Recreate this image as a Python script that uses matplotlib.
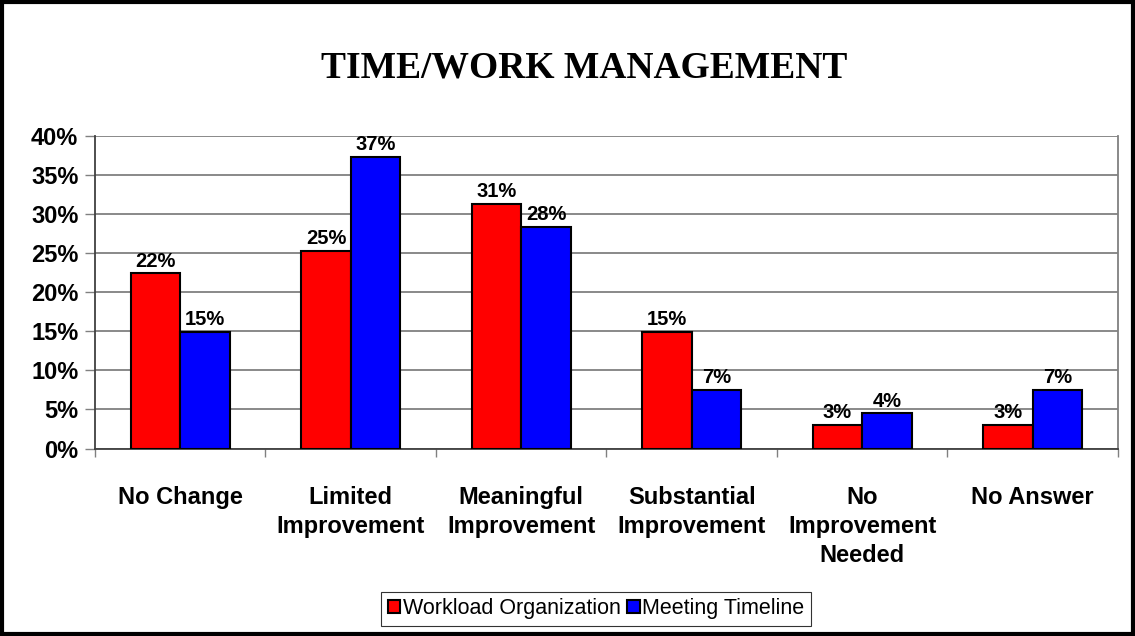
import numpy as np
import matplotlib.pyplot as plt
from matplotlib.patches import Rectangle
from matplotlib.ticker import FixedLocator

categories = ["No Change", "Limited\nImprovement", "Meaningful\nImprovement",
              "Substantial\nImprovement", "No\nImprovement\nNeeded", "No Answer"]
workload = [22.4, 25.3, 31.3, 14.9, 3.0, 3.0]
meeting = [14.9, 37.3, 28.4, 7.5, 4.5, 7.5]
workload_labels = ["22%", "25%", "31%", "15%", "3%", "3%"]
meeting_labels = ["15%", "37%", "28%", "7%", "4%", "7%"]
yticks = [0, 5, 10, 15, 20, 25, 30, 35, 40]

fig = plt.figure(figsize=(11.35, 6.36), dpi=100)
ax = fig.add_axes([0.0837, 0.2948, 0.9013, 0.4914])

x = np.arange(len(categories))
w = 0.29
b1 = ax.bar(x - w / 2, workload, w, color="#ff0000", edgecolor="black", linewidth=1.5,
            label="Workload Organization", zorder=3)
b2 = ax.bar(x + w / 2, meeting, w, color="#0000ff", edgecolor="black", linewidth=1.5,
            label="Meeting Timeline", zorder=3)

for bars, labels in ((b1, workload_labels), (b2, meeting_labels)):
    for rect, lab in zip(bars, labels):
        ax.annotate(lab, (rect.get_x() + rect.get_width() / 2, rect.get_height()),
                    xytext=(0, 2), textcoords="offset points", ha="center", va="bottom",
                    fontsize=14.5, fontweight="bold", family="Liberation Sans", zorder=4)

ax.set_xlim(-0.5, len(categories) - 0.5)
ax.set_ylim(0, 40)
ax.set_yticks(yticks)
ax.set_yticklabels([f"{v}%" for v in yticks], fontsize=17, fontweight="bold",
                   family="Liberation Sans")
ax.yaxis.grid(True, color="#808080", linewidth=1.3, zorder=0)
ax.tick_params(axis="y", length=7, width=1, color="#808080", pad=5)

ax.set_xticks(x)
ax.set_xticklabels(categories, fontsize=17, fontweight="bold", family="Liberation Sans",
                   linespacing=1.32, va="top")
ax.xaxis.set_minor_locator(FixedLocator(np.arange(len(categories) + 1) - 0.5))
ax.tick_params(axis="x", which="major", length=0, pad=27)
ax.tick_params(axis="x", which="minor", length=6, width=1, color="#808080")

ax.spines["top"].set_visible(False)
ax.spines["right"].set_color("#808080")
ax.spines["right"].set_linewidth(1.3)
ax.spines["left"].set_color("#404040")
ax.spines["bottom"].set_color("#404040")
ax.spines["left"].set_linewidth(1.3)
ax.spines["bottom"].set_linewidth(1.3)

fig.text(0.515, 0.893, "TIME/WORK MANAGEMENT", ha="center", va="center",
         fontsize=27, fontweight="bold", family="Liberation Serif")

leg = fig.legend(loc="center", bbox_to_anchor=(0.525, 0.043), ncol=2,
                 prop={"family": "Liberation Sans", "size": 15.5},
                 handlelength=0.6, handleheight=0.6, handletextpad=0.1,
                 columnspacing=0.3, borderpad=0.3, frameon=True, fancybox=False)
leg.get_frame().set_edgecolor("black")
leg.get_frame().set_linewidth(0.8)

fig.patches.append(Rectangle((0.0015, 0.0025), 0.997, 0.995, transform=fig.transFigure,
                             fill=False, edgecolor="black", linewidth=3))

fig.savefig("out.png", dpi=100)
